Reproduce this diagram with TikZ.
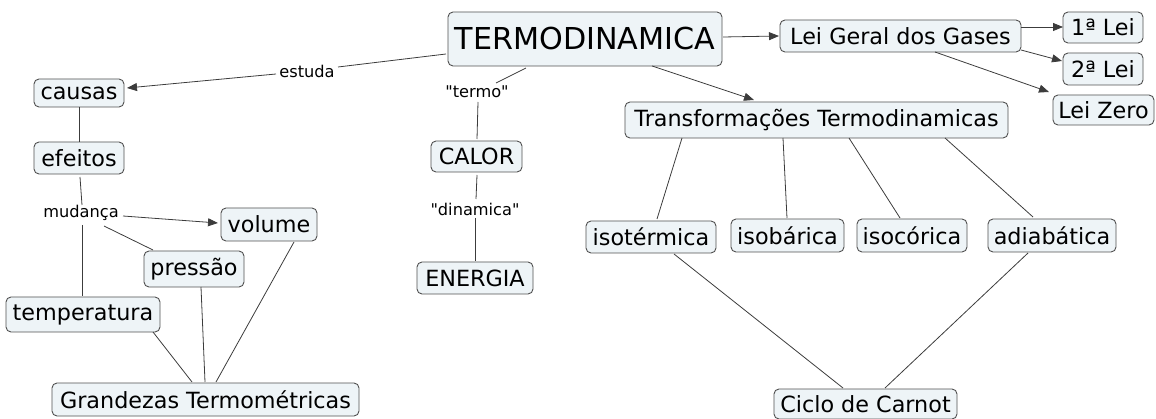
\documentclass[tikz,border=0pt]{standalone}
\usepackage{fontspec}
\setmainfont{DejaVu Sans}[Ligatures=TeXOff]
\usetikzlibrary{arrows.meta,calc}
\definecolor{boxfill}{RGB}{238,244,247}
\definecolor{boxline}{RGB}{80,80,80}
\definecolor{linkcol}{RGB}{60,60,60}
\begin{document}
\begin{tikzpicture}[x=1pt,y=-1pt,
  concept/.style={draw=boxline, fill=boxfill, rounded corners=5pt, inner sep=0pt,
    line width=0.9pt, font=\fontsize{22.3}{26}\selectfont, text=black},
  bigconcept/.style={concept, font=\fontsize{30.2}{35}\selectfont},
  sz/.style 2 args={minimum width=#1pt, minimum height=#2pt},
  linklabel/.style={inner sep=0pt, font=\fontsize{16.2}{19}\selectfont, text=black},
  link/.style={draw=linkcol, line width=0.8pt},
  arr/.style={link, -{Triangle[length=10pt,width=8pt]}}]
\useasboundingbox (0,0) rectangle (1156,419);

% concepts
\node[bigconcept, sz={274}{54}] (termo) at (585,39) {TERMODINAMICA};
\node[concept, sz={241}{32}] (leigeral) at (900.5,36) {Lei Geral dos Gases};
\node[concept, sz={80}{31}] (lei1) at (1103,27.5) {1ª Lei};
\node[concept, sz={80}{32}] (lei2) at (1103,69) {2ª Lei};
\node[concept, sz={101}{30}] (leizero) at (1103.5,110) {Lei Zero};
\node[concept, sz={383}{36}] (transf) at (816.5,120) {Transformações Termodinamicas};
\node[concept, sz={90}{28}] (causas) at (79,93) {causas};
\node[concept, sz={90}{32}] (efeitos) at (79,158) {efeitos};
\node[concept, sz={96}{33}] (volume) at (269,224.5) {volume};
\node[concept, sz={100}{36}] (pressao) at (194,269) {pressão};
\node[concept, sz={154}{35}] (temper) at (83,314.5) {temperatura};
\node[concept, sz={307}{33}] (grandezas) at (205.5,399.5) {Grandezas Termométricas};
\node[concept, sz={91}{31}] (calor) at (476.5,156.5) {CALOR};
\node[concept, sz={116}{32}] (energia) at (475,278) {ENERGIA};
\node[concept, sz={130}{32}] (isoterm) at (651,237) {isotérmica};
\node[concept, sz={113}{33}] (isobar) at (787.5,235.5) {isobárica};
\node[concept, sz={110}{33}] (isocor) at (912,235.5) {isocórica};
\node[concept, sz={128}{33}] (adiab) at (1052,235.5) {adiabática};
\node[concept, sz={183}{30}] (carnot) at (865.5,404) {Ciclo de Carnot};

% linking phrases
\node[linklabel] (estuda) at (307,71) {estuda};
\node[linklabel] (ltermo) at (477,92) {"termo"};
\node[linklabel] (ldinam) at (475,209) {"dinamica"};
\node[linklabel] (mudanca) at (81,213) {mudança};

% connectors
\draw[link] ($(termo)+(-139,15)$) -- ($(estuda)+(31,-4)$);
\draw[arr] ($(estuda)+(-31,3)$) -- ($(causas)+(48,-5)$);
\draw[link] ($(termo)+(-59,29)$) -- ($(ltermo)+(19,-9)$);
\draw[link] ($(ltermo)+(1,10)$) -- ($(calor)+(0.5,-17.5)$);
\draw[link] ($(calor)+(0.5,18.5)$) -- ($(ldinam)+(1,-10)$);
\draw[link] ($(ldinam)+(0,9)$) -- ($(energia)+(0,-17)$);
\draw[arr] ($(termo)+(138,-2)$) -- ($(leigeral)+(-121.5,0)$);
\draw[arr] ($(termo)+(67,27)$) -- ($(transf)+(-62.5,-20)$);
\draw[arr] ($(leigeral)+(120.5,-9)$) -- ($(lei1)+(-40,-0.5)$);
\draw[arr] ($(leigeral)+(120.5,14)$) -- ($(lei2)+(-41,-8)$);
\draw[arr] ($(leigeral)+(34.5,16)$) -- ($(leizero)+(-54.5,-18)$);
\draw[link] (causas.south) -- (efeitos.north);
\draw[link] ($(efeitos)+(1,19)$) -- ($(mudanca)+(1,-8)$);
\draw[arr] ($(mudanca)+(42,3)$) -- ($(volume)+(-51,-1.5)$);
\draw[link] ($(mudanca)+(23,13)$) -- ($(pressao)+(-41,-19)$);
\draw[link] ($(mudanca)+(1,12)$) -- ($(temper)+(-1,-18.5)$);
\draw[link] ($(temper)+(70,17.5)$) -- ($(grandezas)+(-13.5,-17.5)$);
\draw[link] ($(pressao)+(7,18)$) -- ($(grandezas)+(-0.5,-17.5)$);
\draw[link] ($(volume)+(25,17.5)$) -- ($(grandezas)+(10.5,-17.5)$);
\draw[link] ($(transf)+(-134.5,18)$) -- ($(isoterm)+(6,-18)$);
\draw[link] ($(transf)+(-33.5,18)$) -- ($(isobar)+(-0.5,-17.5)$);
\draw[link] ($(transf)+(32.5,18)$) -- ($(isocor)+(-12,-17.5)$);
\draw[link] ($(transf)+(128.5,18)$) -- ($(adiab)+(-19,-18.5)$);
\draw[link] ($(isoterm)+(23,17)$) -- ($(carnot)+(-22.5,-16)$);
\draw[link] ($(adiab)+(-24,17.5)$) -- ($(carnot)+(19.5,-16)$);
\end{tikzpicture}
\end{document}
